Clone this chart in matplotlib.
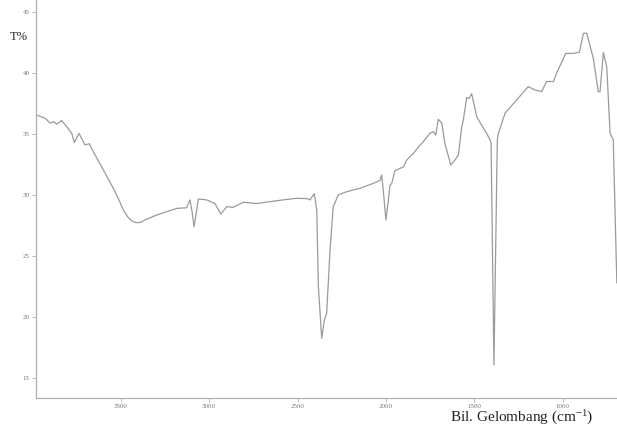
import matplotlib
matplotlib.use("Agg")
import matplotlib.pyplot as plt

plt.rcParams["mathtext.fontset"] = "custom"
plt.rcParams["mathtext.rm"] = "Liberation Serif"
plt.rcParams["mathtext.it"] = "Liberation Serif:italic"

wavenumber = [3979, 3928, 3900, 3877, 3862, 3834, 3805, 3777, 3762, 3736, 3702, 3678, 3655,
              3607, 3542, 3510, 3485, 3460, 3440, 3420, 3400, 3380, 3363, 3296, 3240, 3183,
              3127, 3108, 3095, 3085,
              3072, 3061, 3014, 2967, 2934, 2900, 2863, 2807, 2731, 2656, 2580, 2505, 2448,
              2429, 2405, 2391, 2382, 2363, 2348, 2335, 2316, 2298, 2269, 2222, 2147, 2071,
              2033, 2024, 2015, 2000, 1986, 1977, 1967, 1949, 1901, 1882, 1845, 1807, 1798,
              1751, 1732, 1718, 1704, 1684, 1666, 1633, 1609, 1590, 1571, 1562, 1543, 1530,
              1515, 1486, 1458, 1430, 1411, 1405, 1389, 1370, 1364, 1326, 1260, 1195, 1156,
              1119, 1091, 1053, 1031, 983, 940, 906, 883, 864, 827, 799, 789, 770, 751, 732,
              714, 694]
transmittance = [36.56, 36.3, 35.9, 36.0, 35.8, 36.1, 35.6, 35.05, 34.3, 35.05, 34.1, 34.2, 33.55,
                 32.3, 30.55, 29.6, 28.77, 28.2, 27.9, 27.75, 27.73, 27.8, 27.95, 28.36, 28.63, 28.9,
                 28.95, 29.6, 28.5, 27.4,
                 28.6, 29.67, 29.6, 29.3, 28.44, 29.04, 28.99, 29.4, 29.3, 29.45, 29.6, 29.73, 29.7,
                 29.6, 30.1, 28.77, 22.5, 18.25, 19.75, 20.3, 25.5, 29.04, 30.0, 30.27, 30.55, 30.95,
                 31.2, 31.64, 30.4, 27.95, 29.6, 30.8, 30.95, 32.0, 32.3, 32.87, 33.4, 34.1, 34.2,
                 35.05, 35.2, 34.9, 36.2, 35.9, 34.2, 32.46, 32.87, 33.3, 35.6, 36.15, 38.0, 37.9,
                 38.3, 36.4, 35.7, 35.05, 34.5, 34.2, 16.07, 34.5, 35.05, 36.7, 37.8, 38.88, 38.6,
                 38.47, 39.3, 39.3, 40.1, 41.6, 41.6, 41.7, 43.25, 43.25, 41.2, 38.47, 38.47, 41.67,
                 40.5, 35.05, 34.5, 22.8]

x_ticks = [3500, 3000, 2500, 2000, 1500, 1000]
y_ticks = [15, 20, 25, 30, 35, 40, 45]

fig = plt.figure(figsize=(6.17, 4.30), dpi=100)
ax = fig.add_axes([36 / 617, 1 - 398 / 430, 1 - 36 / 617, 398 / 430])

ax.plot(wavenumber, transmittance, color="#9a9a9a", linewidth=0.9)

ax.set_xlim(3979, 693)
ax.set_ylim(13.36, 45.98)
ax.set_xticks(x_ticks)
ax.set_yticks(y_ticks)
ax.set_xticklabels([str(v) for v in x_ticks])
ax.set_yticklabels([str(v) for v in y_ticks])

for side in ["top", "right"]:
    ax.spines[side].set_visible(False)
for side in ["left", "bottom"]:
    ax.spines[side].set_color("#b0b0b0")
    ax.spines[side].set_linewidth(0.9)

ax.tick_params(axis="both", colors="#b0b0b0", length=3, width=0.6, labelsize=5,
               labelcolor="#777777", pad=1.5)
for lbl in ax.get_xticklabels() + ax.get_yticklabels():
    lbl.set_family("Liberation Serif")

fig.text(10 / 617, 1 - 37 / 430, "T%", fontsize=9, family="Liberation Serif",
         ha="left", va="center", color="#222222")
fig.text(593 / 617, 1 - 418 / 430, r"Bil. Gelombang (cm$^{\mathrm{-1}}$)", fontsize=11,
         family="Liberation Serif", ha="right", va="center", color="#222222")

fig.savefig("out.png", dpi=100)
